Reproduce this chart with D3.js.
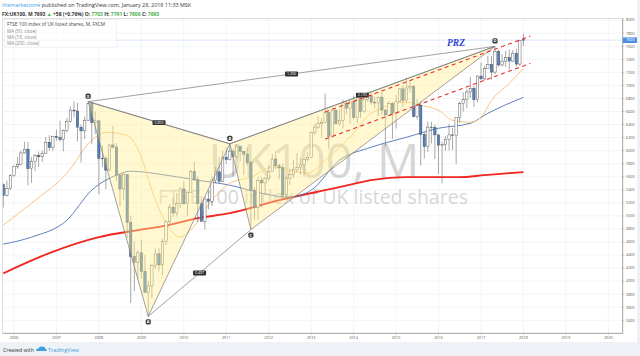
<!DOCTYPE html>
<html><head><meta charset="utf-8">
<script src="https://cdn.jsdelivr.net/npm/d3@7"></script>
<style>
body{margin:0;background:#eef1f5;}
svg{display:block;font-family:"Open Sans",Arial,sans-serif;}
</style>
</head><body>
<svg id="c" width="640" height="356"></svg>
<script>
// ---------- DATA ----------
const firstMonth = "2005-10", lastMonth = "2018-01";
const opens = [5478,5317,5423,
 5619,5760,5792,5965,6023,5724,5833,5928,5906,5961,6129,6048,
 6221,6203,6172,6308,6449,6621,6608,6360,6303,6467,6722,6432,
 6457,5880,5884,5702,6087,6054,5626,5412,5637,4902,4377,4288,
 4434,4149,3830,3926,4244,4418,4249,4608,4909,5134,5045,5191,
 5413,5189,5355,5680,5553,5188,4917,5258,5225,5549,5675,5528,
 5900,5863,5994,5909,6070,5990,5946,5815,5395,5128,5544,5505,
 5572,5682,5872,5768,5738,5321,5571,5635,5711,5742,5783,5867,
 5898,6277,6361,6412,6430,6583,6215,6621,6413,6462,6731,6651,
 6749,6510,6810,6598,6780,6845,6744,6730,6820,6623,6546,6723,
 6566,6749,6947,6773,6961,6984,6521,6696,6248,6062,6361,6356,
 6242,6084,6097,6175,6242,6231,6504,6724,6782,6899,6954,6784,
 7143,7099,7263,7323,7204,7520,7313,7372,7431,7373,7493,7327,
 7703];
const highs = [5500,5539,5638,
 5770,5900,6000,6137,6132,5900,5950,5985,6000,6211,6238,6227,
 6320,6460,6323,6497,6680,6754,6732,6400,6524,6751,6740,6600,
 6479,6079,5920,6100,6376,6117,5640,5660,5640,5000,4610,4470,
 4638,4400,4000,4270,4500,4510,4650,4940,5180,5280,5350,5440,
 5530,5360,5710,5830,5600,5300,5300,5400,5600,5750,5900,6000,
 6060,6105,6030,6100,6070,5990,6050,5840,5440,5590,5600,5600,
 5780,5950,5990,5800,5800,5610,5720,5860,5960,5890,5880,5975,
 6290,6415,6530,6500,6876,6600,6650,6630,6630,6780,6760,6760,
 6840,6860,6850,6840,6880,6900,6830,6830,6900,6640,6760,6750,
 6850,6960,7000,7120,7080,7010,6790,6750,6290,6450,6440,6400,
 6245,6140,6220,6410,6350,6390,6750,6890,6950,7130,6990,7150,
 7350,7300,7450,7450,7598,7550,7480,7530,7550,7540,7560,7700,
 7791];
const lows = [5130,5300,5400,
 5600,5720,5780,5950,5467,5506,5686,5750,5830,5950,6000,6000,
 6150,6140,5989,6280,6430,6510,6140,5821,6180,6450,6103,6250,
 5334,5750,5410,5690,6030,5535,5150,5240,4660,3666,3850,4030,
 4040,3820,3460,3740,4190,4150,4090,4550,4840,4980,4990,5120,
 5170,5000,5350,5540,4900,4920,4790,5100,5150,5500,5500,5520,
 5800,5850,5600,5870,5840,5630,5770,4790,4940,4940,5130,5340,
 5530,5680,5720,5560,5260,5260,5470,5580,5660,5630,5600,5840,
 5898,6240,6330,6200,6420,6030,6200,6400,6380,6340,6560,6420,
 6480,6420,6500,6580,6750,6700,6650,6530,6540,6070,6540,6180,
 6340,6740,6670,6730,6890,6510,6480,5770,5880,5980,6110,5870,
 5640,5500,6000,6000,6010,5790,6430,6600,6650,6810,6670,6740,
 7090,7080,7270,7090,7170,7280,7290,7280,7240,7360,7290,7300,
 7606];
const closes = [5317,5423,5619,
 5760,5792,5965,6023,5724,5833,5928,5906,5961,6129,6048,6221,
 6203,6172,6308,6449,6621,6608,6360,6303,6467,6722,6432,6457,
 5880,5884,5702,6087,6054,5626,5412,5637,4902,4377,4288,4434,
 4149,3830,3926,4244,4418,4249,4608,4909,5134,5045,5191,5413,
 5189,5355,5680,5553,5188,4917,5258,5225,5549,5675,5528,5900,
 5863,5994,5909,6070,5990,5946,5815,5395,5128,5544,5505,5572,
 5682,5872,5768,5738,5321,5571,5635,5711,5742,5783,5867,5898,
 6277,6361,6412,6430,6583,6215,6621,6413,6462,6731,6651,6749,
 6510,6810,6598,6780,6845,6744,6730,6820,6623,6546,6723,6566,
 6749,6947,6773,6961,6984,6521,6696,6248,6062,6361,6356,6242,
 6084,6097,6175,6242,6231,6504,6724,6782,6899,6954,6784,7143,
 7099,7263,7323,7204,7520,7313,7372,7431,7373,7493,7327,7688,
 7693];

// moving averages
const ma18Dates = ["2005-10","2006-06","2007-04","2007-11","2008-03","2008-09","2009-01","2009-04","2009-08","2009-12","2010-03","2010-09","2011-02","2011-08","2012-02","2012-12","2013-05","2013-12","2014-06","2015-04","2015-08","2016-01","2016-05","2016-10","2017-01","2017-04","2017-09","2018-01"];
const ma18Vals  = [4858,5195,5654,6159,6281,6235,5899,5394,4889,4675,4782,5241,5501,5593,5746,5654,5853,6205,6572,6740,6694,6618,6465,6434,6511,6771,7031,7261];
const ma50Dates = ["2005-10","2006-06","2007-04","2007-11","2008-06","2008-10","2009-08","2010-05","2011-02","2011-11","2012-07","2013-01","2013-09","2014-06","2015-04","2016-01","2016-10","2017-03","2018-01"];
const ma50Vals  = [4568,4675,4935,5394,5624,5685,5624,5547,5471,5348,5287,5394,5853,6052,6205,6343,6419,6572,6817];
const ma200Dates = ["2005-10","2006-11","2008-01","2008-12","2009-08","2010-05","2011-02","2012-04","2013-09","2014-06","2015-04","2016-07","2017-02","2018-01"];
const ma200Vals  = [4120,4430,4675,4782,4851,4965,5042,5241,5440,5548,5594,5594,5625,5671];

// harmonic pattern points
const patNames  = ["X","A","B","C","D"];
const patDates  = ["2007-10","2009-03","2011-02","2011-08","2017-05"];
const patValues = [6751,3460,6105,4790,7598];
const ratioPairs  = [["X","B"],["A","C"],["X","D"],["B","D"]];
const ratioLabels = ["0.803","0.497","1.256","2.135"];

// channel lines (red dashed)
const chanDates = ["2013-05","2018-03"];
const chanUpper = [6594,7755];
const chanLower = [6177,7337];

const yearTicks = [2006,2007,2008,2009,2010,2011,2012,2013,2014,2015,2016,2017,2018,2019,2020];
const priceTicks = [3400,3600,3800,4000,4200,4400,4600,4800,5000,5200,5400,5600,5800,6000,6200,6400,6600,6800,7000,7200,7400,7600,7800,8000];
const lastPrice = 7693;

// ---------- SETUP ----------
const parse = d3.timeParse("%Y-%m");
const svg = d3.select("#c");
const L = 2.7, R = 622.7, T = 18.3, B = 333.3;

const x = d3.scaleTime().domain([new Date(2006,0,1), new Date(2020,0,1)]).range([14, 608.3]);
const y = d3.scaleLinear().domain([3400, 7400]).range([320.3, 59.3]);

// backgrounds
svg.append("rect").attr("width",640).attr("height",356).attr("fill","#eef1f5");
svg.append("rect").attr("x",0).attr("y",0).attr("width",637).attr("height",342).attr("fill","#ffffff");

// header
const h1 = svg.append("text").attr("x",2).attr("y",7).attr("font-size",5.4).attr("fill","#333");
h1.append("tspan").attr("fill","#3d9be9").text("themarketzone");
h1.append("tspan").text(" published on TradingView.com, January 28, 2018 11:33 MSK");
const h2 = svg.append("text").attr("x",2).attr("y",16).attr("font-size",5).attr("font-weight","bold").attr("fill","#333");
h2.append("tspan").text("FX:UK100, M  7693 ");
h2.append("tspan").attr("fill","#4caf50").text("▲");
h2.append("tspan").text(" +58 (+0.76%)  O: ");
h2.append("tspan").attr("fill","#4caf50").text("7703");
h2.append("tspan").text("  H: ");
h2.append("tspan").attr("fill","#4caf50").text("7791");
h2.append("tspan").text("  L: ");
h2.append("tspan").attr("fill","#4caf50").text("7606");
h2.append("tspan").text("  C: ");
h2.append("tspan").attr("fill","#4caf50").text("7693");

// clip
svg.append("clipPath").attr("id","plot").append("rect").attr("x",L).attr("y",T).attr("width",R-L).attr("height",B-T);
const g = svg.append("g").attr("clip-path","url(#plot)");

// grid
g.selectAll(".hg").data(priceTicks).join("line")
  .attr("x1",L).attr("x2",R).attr("y1",d=>y(d)).attr("y2",d=>y(d))
  .attr("stroke","#f1f3f6").attr("stroke-width",0.8);
g.selectAll(".vg").data(yearTicks).join("line")
  .attr("x1",d=>x(new Date(d,0,1))).attr("x2",d=>x(new Date(d,0,1))).attr("y1",T).attr("y2",B)
  .attr("stroke","#f1f3f6").attr("stroke-width",0.8);

// watermark
g.append("text").attr("x",314).attr("y",178).attr("text-anchor","middle")
  .attr("font-size",47).attr("fill","#c9c9c9").attr("fill-opacity",0.75).text("UK100, M");
g.append("text").attr("x",313).attr("y",204).attr("text-anchor","middle")
  .attr("font-size",19.5).attr("fill","#c9c9c9").attr("fill-opacity",0.75).text("FTSE 100 index of UK listed shares");

// price line
g.append("line").attr("x1",L).attr("x2",R).attr("y1",y(lastPrice)).attr("y2",y(lastPrice))
  .attr("stroke","#8fb8ec").attr("stroke-width",0.7).attr("stroke-dasharray","1,1");

// MAs
const maLine = d3.line().x(d=>x(d[0])).y(d=>y(d[1])).curve(d3.curveMonotoneX);
function drawMA(dates, vals, color, w){
  const pts = dates.map((d,i)=>[parse(d), vals[i]]);
  g.append("path").attr("d",maLine(pts)).attr("fill","none").attr("stroke",color).attr("stroke-width",w);
}
drawMA(ma200Dates, ma200Vals, "#f0261f", 1.9);
drawMA(ma50Dates, ma50Vals, "#4f72b6", 0.9);
drawMA(ma18Dates, ma18Vals, "#f8bd6e", 0.9);

// candles
const months = d3.timeMonth.range(parse(firstMonth), d3.timeMonth.offset(parse(lastMonth),1));
const candles = months.map((d,i)=>({d, o:opens[i], h:highs[i], l:lows[i], c:closes[i]}));
const bw = 2.4;
const cg = g.append("g");
cg.selectAll(".wick").data(candles).join("line")
  .attr("x1",d=>x(d.d)).attr("x2",d=>x(d.d)).attr("y1",d=>y(d.h)).attr("y2",d=>y(d.l))
  .attr("stroke","#6b6b6b").attr("stroke-width",0.6);
cg.selectAll(".body").data(candles).join("rect")
  .attr("x",d=>x(d.d)-bw/2).attr("width",bw)
  .attr("y",d=>y(Math.max(d.o,d.c)))
  .attr("height",d=>Math.max(0.6, Math.abs(y(d.o)-y(d.c))))
  .attr("fill",d=>d.c>=d.o?"#ffffff":"#4d80c6")
  .attr("stroke","#4a4a4a").attr("stroke-width",0.45);

// harmonic pattern
const P = {};
patNames.forEach((n,i)=>P[n]=[x(parse(patDates[i])), y(patValues[i])]);
const tri = [["X","A","B"],["B","C","D"]];
g.selectAll(".tri").data(tri).join("path")
  .attr("d",t=>"M"+t.map(n=>P[n].join(",")).join("L")+"Z")
  .attr("fill","#ffee90").attr("fill-opacity",0.42)
  .attr("stroke","#7a7a7a").attr("stroke-width",0.7);
g.selectAll(".rl").data(ratioPairs).join("line")
  .attr("x1",p=>P[p[0]][0]).attr("y1",p=>P[p[0]][1]).attr("x2",p=>P[p[1]][0]).attr("y2",p=>P[p[1]][1])
  .attr("stroke","#7a7a7a").attr("stroke-width",0.7);
ratioPairs.forEach((p,i)=>{
  const mx=(P[p[0]][0]+P[p[1]][0])/2, my=(P[p[0]][1]+P[p[1]][1])/2;
  g.append("rect").attr("x",mx-6.5).attr("y",my-2.4).attr("width",13).attr("height",4.8).attr("rx",1)
    .attr("fill","#2f2f2f");
  g.append("text").attr("x",mx).attr("y",my+1.3).attr("text-anchor","middle").attr("font-size",3.6)
    .attr("fill","#fff").text(ratioLabels[i]);
});
patNames.forEach((n,i)=>{
  const up = (n==="X"||n==="B"||n==="D");
  const cx = P[n][0], cy = P[n][1] + (up?-5.5:5.5);
  g.append("rect").attr("x",cx-2.6).attr("y",cy-2.6).attr("width",5.2).attr("height",5.2).attr("rx",1.6)
    .attr("fill","#3a3a3a");
  g.append("text").attr("x",cx).attr("y",cy+1.4).attr("text-anchor","middle").attr("font-size",4)
    .attr("font-weight","bold").attr("fill","#fff").text(n);
});

// channel
[chanUpper, chanLower].forEach(vals=>{
  g.append("line").attr("x1",x(parse(chanDates[0]))).attr("y1",y(vals[0]))
    .attr("x2",x(parse(chanDates[1]))).attr("y2",y(vals[1]))
    .attr("stroke","#ee2a2a").attr("stroke-width",1.1).attr("stroke-dasharray","4,3.5");
});

// PRZ
g.append("text").attr("x",447).attr("y",46).attr("font-family","'Liberation Serif','DejaVu Serif',serif")
  .attr("font-style","italic").attr("font-weight","bold").attr("font-size",9.5).attr("fill","#2b3fd6").text("PRZ");

// legend
const lg = svg.append("g");
lg.append("rect").attr("x",4.5).attr("y",19.5).attr("width",112).attr("height",28).attr("fill","#fff").attr("fill-opacity",0.6)
  .attr("stroke","#e3e6ea").attr("stroke-width",0.5);
lg.append("text").attr("x",7).attr("y",26).attr("font-size",4.8).attr("fill","#444").text("FTSE 100 index of UK listed shares, M, FXCM");
[["MA (50, close)",32.5],["MA (18, close)",39],["MA (200, close)",45.3]].forEach(a=>{
  lg.append("text").attr("x",7).attr("y",a[1]).attr("font-size",4.6).attr("fill","#8a8a8a").text(a[0]);
});

// frame
svg.append("rect").attr("x",L).attr("y",T).attr("width",R-L).attr("height",B-T).attr("fill","none")
  .attr("stroke","#c5c9ce").attr("stroke-width",0.6);
svg.append("line").attr("x1",L).attr("x2",R).attr("y1",B).attr("y2",B).attr("stroke","#8e9399").attr("stroke-width",0.7);
svg.append("line").attr("x1",R).attr("x2",R).attr("y1",T).attr("y2",B).attr("stroke","#8e9399").attr("stroke-width",0.7);

// price axis
const pa = svg.append("g");
pa.selectAll("line").data(priceTicks).join("line")
  .attr("x1",R).attr("x2",R+1.8).attr("y1",d=>y(d)).attr("y2",d=>y(d)).attr("stroke","#8e9399").attr("stroke-width",0.5);
pa.selectAll("text").data(priceTicks.filter(d=>y(d)>T-1)).join("text")
  .attr("x",R+3.3).attr("y",d=>y(d)+1.3).attr("font-size",3.8).attr("fill","#555").text(d=>d);
pa.append("rect").attr("x",R+0.3).attr("y",y(lastPrice)-2.8).attr("width",14).attr("height",5.6).attr("fill","#4a8fe0");
pa.append("text").attr("x",R+3.3).attr("y",y(lastPrice)+1.3).attr("font-size",3.8).attr("fill","#fff").text(lastPrice);

// time axis
const ta = svg.append("g");
ta.selectAll("line").data(yearTicks).join("line")
  .attr("x1",d=>x(new Date(d,0,1))).attr("x2",d=>x(new Date(d,0,1))).attr("y1",B).attr("y2",B+1.6)
  .attr("stroke","#8e9399").attr("stroke-width",0.5);
ta.selectAll("text").data(yearTicks).join("text")
  .attr("x",d=>x(new Date(d,0,1))).attr("y",B+5.6).attr("text-anchor","middle").attr("font-size",3.8).attr("fill","#555").text(d=>d);

// footer
svg.append("text").attr("x",3).attr("y",351.5).attr("font-size",5.2).attr("fill","#333").text("Created with");
const logo = svg.append("g").attr("transform","translate(36,346)");
logo.append("path").attr("d","M0,5 C0,3 1.5,2.2 2.6,2.6 C3,0.8 5,0 6.6,0.9 C7.6,0.3 9.4,0.9 9.4,2.8 C10.6,3 11,4.2 10.6,5 Z").attr("fill","#3ea0db");
svg.append("text").attr("x",48).attr("y",351.5).attr("font-size",5.4).attr("fill","#3ea0db").text("TradingView");
</script>
</body></html>
